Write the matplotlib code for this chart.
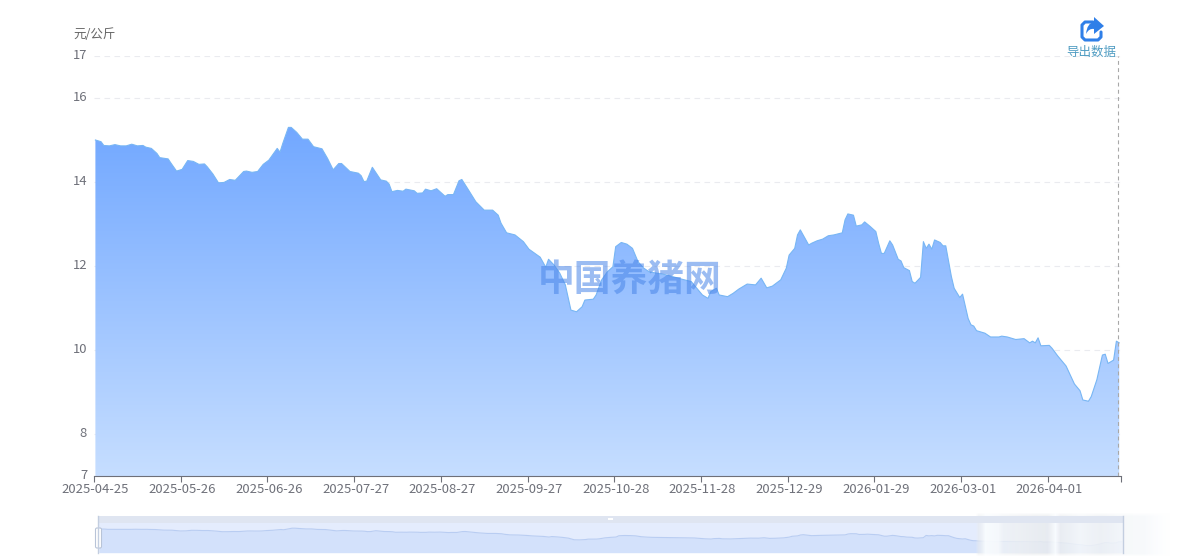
import numpy as np
import matplotlib.pyplot as plt
from matplotlib.colors import LinearSegmentedColormap
from matplotlib.patches import FancyBboxPatch, PathPatch, Rectangle
from matplotlib.path import Path
from matplotlib.transforms import ScaledTranslation

plt.rcParams['font.family'] = ['Noto Sans CJK SC', 'DejaVu Sans']

# days since 2025-04-25
days = [0, 2, 3, 5, 7, 9, 11, 13, 15, 17, 18, 20, 22, 23, 26, 27, 29, 31, 33, 35,
        37, 39, 40, 42, 44, 46, 48, 50, 53, 54, 56, 58, 60, 62, 65, 66, 67, 69, 70, 72,
        74, 76, 78, 81, 83, 85, 87, 88, 91, 94, 95, 96, 97, 99, 100, 102, 104, 105, 106, 108,
        110, 111, 114, 115, 117, 118, 120, 122, 125, 126, 128, 130, 131, 133, 136, 139, 142, 144, 145, 147,
        150, 153, 155, 159, 161, 162, 164, 166, 168, 170, 172, 174, 175, 178, 179, 181, 183, 185, 186, 188,
        190, 192, 194, 196, 198, 204, 210, 213, 215, 217, 219, 220, 222, 223, 226, 228, 230, 233, 236, 238,
        240, 242, 245, 247, 248, 250, 251, 252, 253, 255, 256, 258, 260, 262, 264, 267, 268, 269, 271, 272,
        274, 275, 277, 279, 280, 281, 282, 284, 285, 287, 288, 289, 291, 292, 293, 295, 296, 297, 298, 299,
        300, 302, 303, 304, 306, 307, 309, 310, 312, 313, 314, 315, 318, 320, 323, 324, 326, 329, 332, 334,
        335, 336, 337, 338, 341, 342, 344, 347, 350, 352, 353, 355, 356, 358, 360, 361, 362, 364, 365, 366]
prices = [15.00, 14.96, 14.87, 14.86, 14.89, 14.86, 14.86, 14.90, 14.86, 14.87, 14.83, 14.80, 14.68, 14.58, 14.55, 14.45, 14.26, 14.30, 14.51, 14.49,
          14.42, 14.43, 14.36, 14.19, 13.98, 13.99, 14.06, 14.04, 14.25, 14.26, 14.23, 14.25, 14.42, 14.52, 14.80, 14.71, 14.92, 15.30, 15.30, 15.18,
          15.02, 15.02, 14.84, 14.79, 14.56, 14.29, 14.44, 14.44, 14.25, 14.21, 14.15, 14.01, 14.02, 14.35, 14.25, 14.05, 14.02, 13.95, 13.77, 13.80,
          13.78, 13.83, 13.79, 13.73, 13.74, 13.83, 13.79, 13.84, 13.66, 13.70, 13.70, 14.03, 14.06, 13.85, 13.53, 13.33, 13.33, 13.21, 13.02, 12.79,
          12.74, 12.58, 12.40, 12.21, 11.97, 12.16, 12.02, 11.83, 11.55, 10.95, 10.91, 11.03, 11.19, 11.21, 11.31, 11.67, 11.86, 11.98, 12.46, 12.56,
          12.52, 12.42, 12.10, 11.95, 11.86, 11.79, 11.68, 11.63, 11.47, 11.31, 11.23, 11.39, 11.47, 11.31, 11.27, 11.35, 11.45, 11.57, 11.55, 11.71,
          11.48, 11.52, 11.67, 11.95, 12.26, 12.42, 12.74, 12.86, 12.74, 12.50, 12.54, 12.60, 12.64, 12.72, 12.74, 12.79, 13.10, 13.24, 13.21, 12.95,
          12.98, 13.05, 12.94, 12.82, 12.54, 12.30, 12.30, 12.60, 12.50, 12.16, 12.12, 11.96, 11.89, 11.63, 11.59, 11.73, 12.58, 12.42, 12.52, 12.40,
          12.62, 12.56, 12.48, 12.48, 11.75, 11.47, 11.25, 11.33, 10.75, 10.60, 10.57, 10.46, 10.40, 10.31, 10.31, 10.33, 10.31, 10.25, 10.27, 10.17,
          10.21, 10.17, 10.29, 10.10, 10.11, 10.04, 9.86, 9.62, 9.19, 9.03, 8.81, 8.78, 8.89, 9.29, 9.88, 9.90, 9.68, 9.76, 10.21, 10.17]

tick_labels = ['2025-04-25', '2025-05-26', '2025-06-26', '2025-07-27', '2025-08-27', '2025-09-27',
               '2025-10-28', '2025-11-28', '2025-12-29', '2026-01-29', '2026-03-01', '2026-04-01']
label_days = [0, 31, 62, 93, 124, 155, 186, 217, 248, 279, 310, 341]
y_ticks = [7, 8, 10, 12, 14, 16, 17]

W, H = 1180, 560
TXT = '#6E7079'


def axes_px(fig, x0, y0, x1, y1):
    # axes rectangle given in image pixels, y going down
    return fig.add_axes([x0 / W, 1 - y1 / H, (x1 - x0) / W, (y1 - y0) / H])


fig = plt.figure(figsize=(W / 100, H / 100), dpi=100)

# main chart
ax = axes_px(fig, 94, 56, 1120.6, 476)
ax.set_xlim(-0.5, 366.5)
ax.set_ylim(7, 17)

cmap = LinearSegmentedColormap.from_list('pig', ['#C6DEFF', '#72A8FF'])
poly = ax.fill_between(days, prices, 7, color='none')
grad = np.linspace(1, 0, 256).reshape(-1, 1)
im = ax.imshow(grad, extent=(-0.5, 366.5, 7, max(prices)), cmap=cmap, aspect='auto', zorder=2)
ax.set_xlim(-0.5, 366.5)
ax.set_ylim(7, 17)
im.set_clip_path(poly.get_paths()[0], transform=ax.transData)
ax.plot(days, prices, color='#78B6F4', lw=0.8, zorder=3)

ax.set_yticks(y_ticks)
ax.grid(axis='y', color='#EAEBEF', lw=0.8, dashes=(5, 4))
ax.set_axisbelow(True)
ax.tick_params(axis='y', length=0, pad=5, labelsize=9.4, labelcolor=TXT)
ax.set_xticks([d - 0.5 for d in label_days] + [366.5])
ax.set_xticklabels([])
ax.set_xticks(label_days, tick_labels, minor=True)
ax.tick_params(axis='x', which='major', length=4, width=0.8, color=TXT)
ax.tick_params(axis='x', which='minor', length=4, width=0, pad=0.8, labelsize=9.4, labelcolor=TXT)
for s in ['top', 'left', 'right']:
    ax.spines[s].set_visible(False)
ax.spines['bottom'].set_color(TXT)
ax.spines['bottom'].set_linewidth(0.8)
ax.axvline(365.4, color='#A8A8A8', lw=0.8, dashes=(3.5, 3), zorder=4)

# the font sits a little low, lift the y labels
lift = ScaledTranslation(0, 1.5 / 72, fig.dpi_scale_trans)
for lab in ax.get_yticklabels():
    lab.set_transform(lab.get_transform() + lift)

# slider below the chart
sl = axes_px(fig, 98, 523, 1123, 552.7)
sl.set_xlim(-0.5, 366.5)
sl.set_ylim(6.1, 17.25)
sl.set_facecolor('#E4ECFD')
sl.fill_between(days, prices, 6.1, color='#D3E1FB', lw=0)
sl.plot(days, prices, color='#B9CDF2', lw=0.8)
sl.set_xticks([])
sl.set_yticks([])
for s in sl.spines.values():
    s.set_visible(False)

# pixel overlay for the decoration
ov = fig.add_axes([0, 0, 1, 1], zorder=5)
ov.set_xlim(0, W)
ov.set_ylim(H, 0)
ov.axis('off')

ov.text(73, 35, '元/公斤', fontsize=9, color='#666666', ha='left', va='center')
ov.text(630, 280, '中国养猪网', fontsize=26.5, fontweight='bold', color='#4A86E8', alpha=0.55,
        ha='center', va='center')
ov.text(1091, 52, '导出数据', fontsize=9, color='#4F9CC2', ha='center', va='center')

# export icon
ov.plot([1093, 1085, 1082, 1082, 1085, 1098, 1101, 1101],
        [22, 22, 25, 37, 40, 40, 37, 32], color='#2F7FE8', lw=2.2, solid_capstyle='round',
        solid_joinstyle='round')
arrow = Path([(1104, 26), (1094, 17), (1094, 22), (1087, 23), (1086, 34), (1089, 28), (1094, 29), (1094, 34), (1104, 26)],
             [Path.MOVETO, Path.LINETO, Path.LINETO, Path.CURVE3, Path.CURVE3, Path.CURVE3, Path.CURVE3, Path.LINETO, Path.CLOSEPOLY])
ov.add_patch(PathPatch(arrow, fc='#2F7FE8', ec='none'))

# slider frame and handle
ov.add_patch(Rectangle((98, 516), 1025, 7, fc='#DFE5F1', ec='none'))
ov.add_patch(Rectangle((608, 518), 5, 2, fc='#FFFFFF', ec='none'))
ov.plot([98, 98], [516, 552.7], color='#C3CEE0', lw=1)
ov.plot([1123, 1123], [516, 552.7], color='#C3CEE0', lw=1)
ov.add_patch(FancyBboxPatch((95.5, 528), 6, 20, boxstyle='round,pad=0,rounding_size=1.5',
                            fc='#FFFFFF', ec='#B8C4D8', lw=0.8))

# washed out stamp over the right of the slider
stamp_x = [975, 978, 985, 998, 1003, 1025, 1047, 1055, 1060, 1080, 1100, 1120, 1145, 1170]
stamp_a = [0.0, 0.55, 0.95, 0.95, 0.75, 0.85, 0.80, 0.95, 0.80, 0.85, 0.85, 0.85, 0.85, 0.0]
stamp_g = [245, 238, 255, 252, 246, 242, 238, 255, 240, 250, 244, 250, 252, 255]
xs = np.arange(975, 1170)
rows = np.arange(512, 556)
alpha = np.interp(xs, stamp_x, stamp_a)
grey = np.interp(xs, stamp_x, stamp_g) / 255
edge = np.clip((rows - 512) / 4, 0, 1) * np.clip((556 - rows) / 3, 0, 1)
rgba = np.ones((len(rows), len(xs), 4))
rgba[..., :3] = grey[None, :, None] * np.array([0.98, 0.99, 1.0])
rgba[..., 3] = alpha[None, :] * edge[:, None]
ov.imshow(rgba, extent=(975, 1170, 556, 512), aspect='auto', interpolation='bilinear')
ov.set_xlim(0, W)
ov.set_ylim(H, 0)

fig.savefig('out.png', dpi=100)
